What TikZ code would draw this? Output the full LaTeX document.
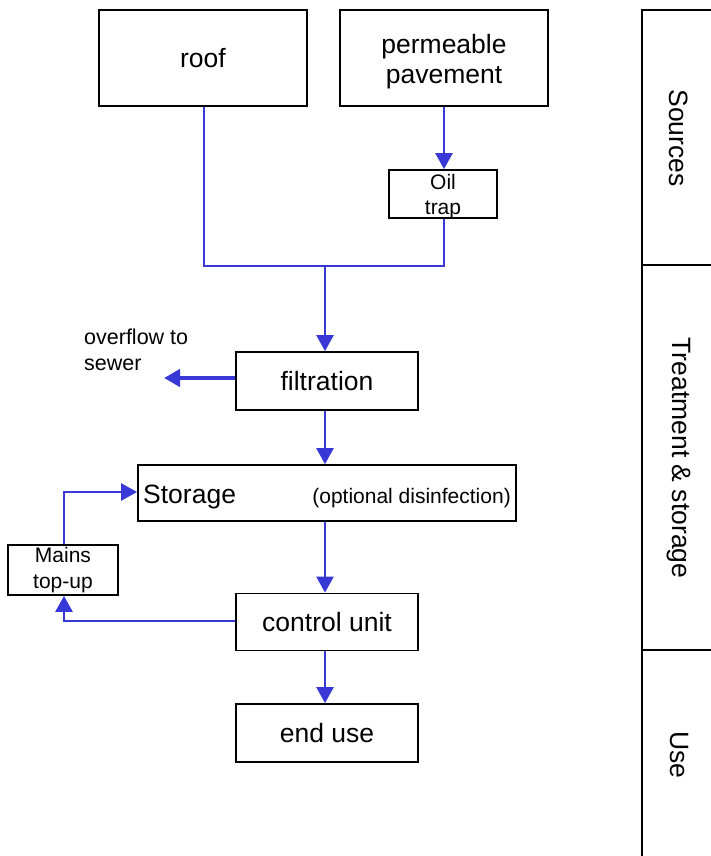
\documentclass[tikz,border=0pt]{standalone}
\usepackage{fontspec}
\setmainfont{Liberation Sans}
\usetikzlibrary{arrows.meta}
\definecolor{flow}{RGB}{56,56,214}
\begin{document}
\begin{tikzpicture}[x=1pt,y=-1pt,
  box/.style={draw=black,line width=1.8pt,inner sep=0pt,align=center},
  conn/.style={draw=flow,line width=2.5pt},
  tip/.style={-{Triangle[length=16pt,width=17pt]}},
  arr/.style={conn,tip},
  lbl/.style={font=\fontsize{26.5}{30}\selectfont},
  sml/.style={font=\fontsize{21}{25}\selectfont}]
\useasboundingbox (0,0) rectangle (711,856);
% boxes
\node[box,minimum width=208pt,minimum height=96pt,lbl] (roof) at (203,58) {roof};
\node[box,minimum width=208pt,minimum height=96pt] (pave) at (444,58) {};
\node[lbl,align=center,inner sep=0pt] (pavelbl) at (444,62) {permeable\\pavement};
\node[box,minimum width=108pt,minimum height=48pt] (oil) at (443,194) {};
\node[sml,align=center,inner sep=0pt] (oillbl) at (443,197) {Oil\\trap};
\node[box,minimum width=182pt,minimum height=58pt,lbl] (filt) at (327,381) {filtration};
\node[box,minimum width=378pt,minimum height=56pt] (stor) at (327,493) {};
\node[anchor=west,inner sep=0pt,lbl] (storlbl) at (143,497) {Storage};
\node[anchor=east,inner sep=0pt,sml] (storopt) at (511,498) {(optional disinfection)};
\node[box,minimum width=110pt,minimum height=50pt,font=\fontsize{21}{26}\selectfont] (mains) at (63,570) {Mains\\top-up};
\node[box,minimum width=182pt,minimum height=57pt,lbl] (ctrl) at (327,622) {control unit};
\node[box,minimum width=182pt,minimum height=58pt,lbl] (end) at (327,733) {end use};
\node[anchor=north west,inner sep=0pt,align=left,font=\fontsize{21.5}{26}\selectfont] (over) at (84,329) {overflow to\\sewer};
% side column
\draw[line width=1.8pt] (715,10) -- (642,10) -- (642,860);
\draw[line width=1.8pt] (642,265) -- (715,265);
\draw[line width=1.8pt] (642,650) -- (715,650);
\node[rotate=-90,lbl] (src) at (679,138) {Sources};
\node[rotate=-90,lbl] (trt) at (679,458) {Treatment \& storage};
\node[rotate=-90,lbl] (use) at (679,755) {Use};
% connectors
\coordinate (j1) at (204,266);
\coordinate (j2) at (444,266);
\coordinate (jm) at (325,266);
\draw[conn] (roof.south -| j1) -- (j1) -- (j2) -- (oil.south -| j2);
\draw[arr] (pave.south -| j2) -- (oil.north -| j2);
\draw[arr] (jm) -- (filt.north -| jm);
\coordinate (ov) at (164,378);
\draw[conn,line width=4pt,tip] (filt.west |- ov) -- (ov);
\draw[arr] (filt.south -| jm) -- (stor.north -| jm);
\draw[arr] (stor.south -| jm) -- (ctrl.north -| jm);
\draw[arr] (ctrl.south -| jm) -- (end.north -| jm);
\coordinate (ml) at (64,621);
\coordinate (mt) at (64,492);
\draw[arr] (ctrl.west |- ml) -- (ml) -- (mains.south -| ml);
\draw[arr] (mains.north -| mt) -- (mt) -- (stor.west |- mt);
\end{tikzpicture}
\end{document}
